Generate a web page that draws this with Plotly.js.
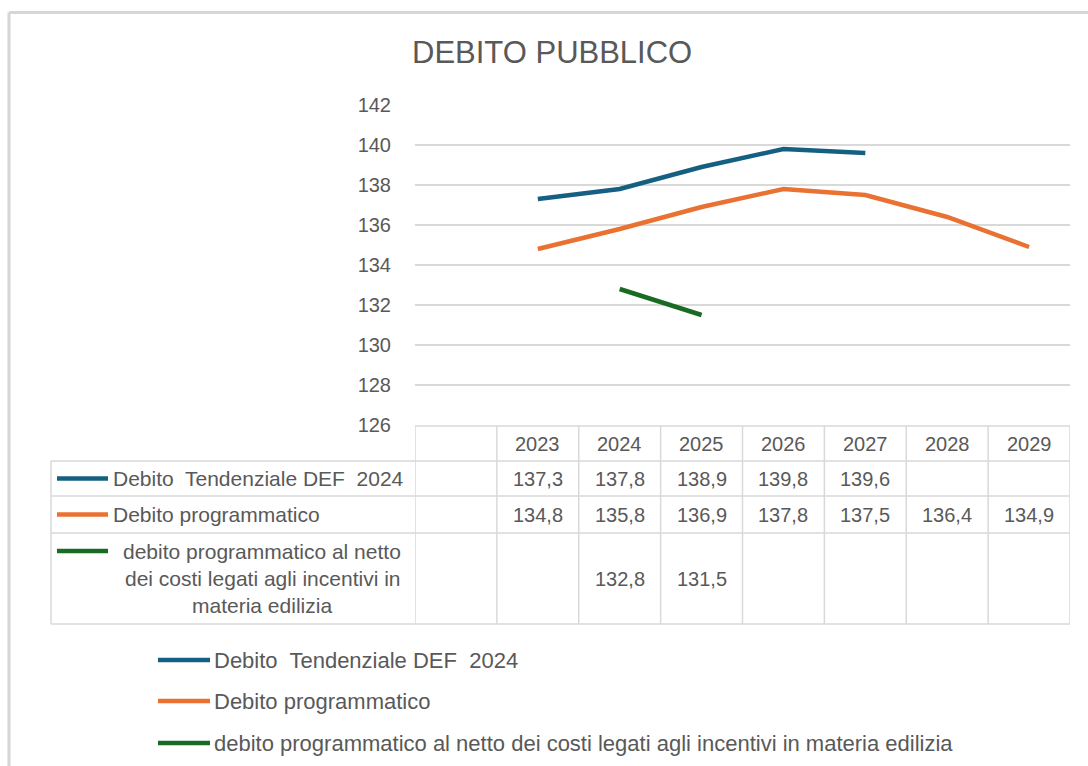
<!DOCTYPE html>
<html>
<head>
<meta charset="utf-8">
<script src="https://cdn.plot.ly/plotly-3.0.1.min.js"></script>
<style>
  html, body { margin: 0; padding: 0; background: #ffffff; }
  #chart { width: 1088px; height: 766px; }
</style>
</head>
<body>
<div id="chart"></div>
<script>
// ---- data ----
const years = ["2023", "2024", "2025", "2026", "2027", "2028", "2029"];
const seriesNames = [
  "Debito  Tendenziale DEF  2024",
  "Debito programmatico",
  "debito programmatico al netto dei costi legati agli incentivi in materia edilizia"
];
const tableLabels = [
  ["Debito  Tendenziale DEF  2024"],
  ["Debito programmatico"],
  ["debito programmatico al netto", "dei costi legati agli incentivi in", "materia edilizia"]
];
const tendenziale = [137.3, 137.8, 138.9, 139.8, 139.6, null, null];
const programmatico = [134.8, 135.8, 136.9, 137.8, 137.5, 136.4, 134.9];
const alNetto = [null, 132.8, 131.5, null, null, null, null];
const colors = ["#156082", "#E97132", "#196B24"];
const titleText = "DEBITO PUBBLICO";

// ---- layout helpers (pixel -> paper) ----
const W = 1088, H = 766;
const px = x => x / W;
const py = y => 1 - y / H;
const gridCol = "#d9d9d9";
const textCol = "#595959";
const font = "Liberation Sans, Arial, sans-serif";

const allSeries = [tendenziale, programmatico, alNetto];
const cats = [" "].concat(years);
const catIdx = yr => cats.indexOf(yr);

const traces = allSeries.map((vals, i) => ({
  type: "scatter",
  mode: "lines",
  x: years,
  y: vals,
  name: seriesNames[i],
  line: { color: colors[i], width: 4.5 },
  connectgaps: false,
  showlegend: false,
  hoverinfo: "skip"
}));

const shapes = [];
const annotations = [];

// frame
shapes.push({ type: "line", xref: "paper", yref: "paper", x0: px(9), x1: 1, y0: py(12.5), y1: py(12.5), line: { color: "#d6d6d6", width: 3 } });
shapes.push({ type: "line", xref: "paper", yref: "paper", x0: px(9), x1: px(9), y0: py(12.5), y1: 0, line: { color: "#d6d6d6", width: 3 } });

// table geometry (pixels)
const tTop = 426, rowLines = [461, 496, 533, 624], tLeft = 51;
const tableLine = { color: gridCol, width: 1.5 };
shapes.push({ type: "line", xref: "x", yref: "paper", x0: -0.5, x1: cats.length - 0.5, y0: py(tTop), y1: py(tTop), line: tableLine });
rowLines.forEach(y => {
  shapes.push({ type: "line", xref: "paper", yref: "paper", x0: px(tLeft), x1: px(1070), y0: py(y), y1: py(y), line: tableLine });
});
shapes.push({ type: "line", xref: "paper", yref: "paper", x0: px(tLeft), x1: px(tLeft), y0: py(rowLines[0]), y1: py(rowLines[3]), line: tableLine });
for (let i = 0; i <= cats.length; i++) {
  shapes.push({ type: "line", xref: "x", yref: "paper", x0: i - 0.5, x1: i - 0.5, y0: py(tTop), y1: py(rowLines[3]), line: tableLine });
}

// header year labels
years.forEach(yr => {
  annotations.push({ xref: "x", yref: "paper", x: catIdx(yr), y: py((tTop + rowLines[0]) / 2), text: yr, showarrow: false, xanchor: "center", yanchor: "middle", font: { family: font, size: 20, color: textCol } });
});

// value cells
const fmt = v => v.toFixed(1).replace(".", ",");
const rowCenters = [(rowLines[0] + rowLines[1]) / 2, (rowLines[1] + rowLines[2]) / 2, (rowLines[2] + rowLines[3]) / 2];
allSeries.forEach((vals, r) => {
  vals.forEach((v, j) => {
    if (v === null) return;
    annotations.push({ xref: "x", yref: "paper", x: catIdx(years[j]), y: py(rowCenters[r]), text: fmt(v), showarrow: false, xanchor: "center", yanchor: "middle", font: { family: font, size: 20, color: textCol } });
  });
});

// row labels with legend keys
const keyY = [rowCenters[0], rowCenters[1], 551];
tableLabels.forEach((lines, r) => {
  shapes.push({ type: "line", xref: "paper", yref: "paper", x0: px(57), x1: px(108), y0: py(keyY[r]), y1: py(keyY[r]), line: { color: colors[r], width: 4.5 } });
  if (lines.length === 1) {
    annotations.push({ xref: "paper", yref: "paper", x: px(111), y: py(keyY[r]), text: lines[0], showarrow: false, xanchor: "left", yanchor: "middle", font: { family: font, size: 21, color: textCol } });
  } else {
    lines.forEach((t, k) => {
      annotations.push({ xref: "paper", yref: "paper", x: px(262), y: py(551 + k * 27), text: t, showarrow: false, xanchor: "center", yanchor: "middle", font: { family: font, size: 21, color: textCol } });
    });
  }
});

// bottom legend
const legY = [660, 701, 743];
seriesNames.forEach((n, i) => {
  shapes.push({ type: "line", xref: "paper", yref: "paper", x0: px(158), x1: px(210), y0: py(legY[i]), y1: py(legY[i]), line: { color: colors[i], width: 4.5 } });
  annotations.push({ xref: "paper", yref: "paper", x: px(212), y: py(legY[i]), text: n, showarrow: false, xanchor: "left", yanchor: "middle", font: { family: font, size: 22, color: textCol } });
});

// title
annotations.push({ xref: "paper", yref: "paper", x: px(552), y: py(52), text: titleText, showarrow: false, xanchor: "center", yanchor: "middle", font: { family: font, size: 31, color: textCol } });

const layout = {
  width: W, height: H,
  margin: { l: 0, r: 0, t: 0, b: 0 },
  paper_bgcolor: "#ffffff",
  plot_bgcolor: "#ffffff",
  showlegend: false,
  xaxis: {
    type: "category",
    categoryorder: "array",
    categoryarray: cats,
    range: [-0.5, cats.length - 0.5],
    domain: [px(415), px(1070)],
    showticklabels: false,
    showgrid: false,
    zeroline: false,
    showline: false,
    ticks: ""
  },
  yaxis: {
    range: [126, 142],
    dtick: 2,
    tick0: 126,
    domain: [py(425), py(105)],
    showgrid: true,
    gridcolor: gridCol,
    gridwidth: 1.5,
    zeroline: false,
    showline: false,
    ticks: "",
    ticklabelstandoff: 23,
    tickfont: { family: font, size: 20, color: textCol }
  },
  shapes: shapes,
  annotations: annotations
};

Plotly.newPlot("chart", traces, layout, { displayModeBar: false, staticPlot: true });
</script>
</body>
</html>
